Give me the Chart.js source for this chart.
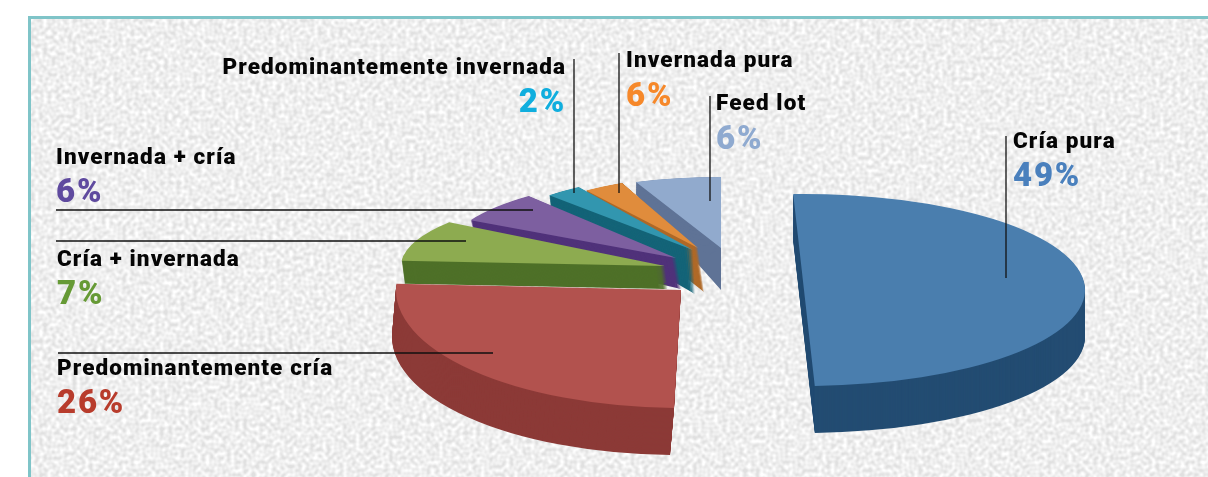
<!DOCTYPE html>
<html>
<head>
<meta charset="utf-8">
<title>Sistemas productivos</title>
<script src="https://cdn.jsdelivr.net/npm/chart.js@4"></script>
<style>
  html, body { margin: 0; padding: 0; background: #fff; overflow: hidden; }
  #panel {
    position: absolute; left: 28px; top: 16px; width: 1180px; height: 461px;
    border-left: 3px solid #7fc4c8; border-top: 3px solid #7fc4c8;
    background-color: #e0e0e0;
    background-image: url("data:image/svg+xml;utf8,<svg xmlns='http://www.w3.org/2000/svg' width='1200' height='480'><filter id='n'><feTurbulence type='fractalNoise' baseFrequency='0.24' numOctaves='1' seed='4'/><feColorMatrix values='0 0 0 0 1  0 0 0 0 1  0 0 0 0 1  2.2 0 0 0 -0.62'/></filter><rect width='1200' height='480' filter='url(%23n)'/></svg>");
  }
  #myChart { position: absolute; left: 0; top: 0; }
</style>
</head>
<body>
<div id="panel"></div>
<canvas id="myChart" width="1208" height="477"></canvas>
<script>
var categories = ["Cría pura", "Predominantemente cría", "Cría + invernada", "Invernada + cría", "Predominantemente invernada", "Invernada pura", "Feed lot"];
// slice sizes; the printed label for Invernada pura says 6% but its slice is narrower
var sliceValues = [49, 26, 7, 6, 2, 4, 6];
var percentLabels = ["49%", "26%", "7%", "6%", "2%", "6%", "6%"];

var topColors = ["#4a7eae", "#b2524e", "#8dab50", "#7d5fa0", "#3296af", "#e08c3c", "#91aacd"];
var sideColors = ["#234c72", "#8c3a37", "#4e7028", "#50327a", "#146478", "#af6928", "#5f7396"];
var textColors = ["#4a80bd", "#b83c2c", "#669a35", "#5f4a9f", "#10aede", "#f6882a", "#8faad0"];

// where each slice sits on the page: apex, ellipse radii, side height near the apex and at the far rim,
// sideways lean of the side wall, and a small perspective nudge (degrees) of the two cut edges
var slicePlace = [
  { x: 804, y: 290, rx: 281, ry: 96,  near: 47, far: 47, lean: 0, from: -2.2, to: 1.4 },
  { x: 681, y: 290, rx: 285, ry: 118, near: 47, far: 47, lean: -4, from: 5, to: 3 },
  { x: 665, y: 266, rx: 264, ry: 76,  near: 23, far: 24, lean: 3, from: 4, to: 10 },
  { x: 676, y: 258, rx: 233, ry: 80,  near: 31, far: 10, lean: 5, from: 3, to: 4 },
  { x: 693, y: 250, rx: 210, ry: 75,  near: 44, far: 6,  lean: 2, from: 0, to: 3 },
  { x: 698, y: 248, rx: 190, ry: 71,  near: 44, far: 6,  lean: 6, from: 0, to: -2 },
  { x: 721, y: 248, rx: 231, ry: 71,  near: 42, far: 10, lean: 0, from: 0, to: 0 }
];

// label text anchors, same order as categories
var textPlace = [
  { x: 1013, name: 148, pct: 186, align: "left" },
  { x: 57,   name: 375, pct: 413, align: "left" },
  { x: 57,   name: 266, pct: 304, align: "left" },
  { x: 56,   name: 164, pct: 202, align: "left" },
  { x: 566,  name: 74,  pct: 112, align: "right" },
  { x: 626,  name: 67,  pct: 106, align: "left" },
  { x: 716,  name: 110, pct: 149, align: "left" }
];

var leaderLines = [
  [1006, 136, 1006, 278],
  [58, 353, 493, 353],
  [56, 241, 466, 241],
  [56, 210, 533, 210],
  [574, 59, 574, 193],
  [619, 53, 619, 193],
  [710, 96, 710, 201]
];

function paintArc(ctx, arc, p, color, x, y, ry) {
  var shell = Object.create(arc);
  shell.options = Object.assign({}, arc.options, { backgroundColor: color });
  shell.startAngle = arc.startAngle + p.from * Math.PI / 180;
  shell.endAngle = arc.endAngle + p.to * Math.PI / 180;
  shell.circumference = shell.endAngle - shell.startAngle;
  var R = arc.outerRadius;
  ctx.save();
  ctx.translate(x, y);
  ctx.scale(p.rx / R, ry / R);
  ctx.translate(-arc.x, -arc.y);
  shell.draw(ctx);
  ctx.restore();
}

var tiltedPie = {
  id: 'tiltedPie',
  beforeDatasetsDraw: function(chart) {
    var ctx = chart.ctx;
    var arcs = chart.getDatasetMeta(0).data;
    // back slices first, the big front ones last
    for (var i = arcs.length - 1; i >= 0; i--) {
      var p = slicePlace[i];
      for (var k = p.near; k >= 1; k--) {
        var t = k / p.near;
        paintArc(ctx, arcs[i], p, sideColors[i], p.x + t * p.lean, p.y + k, p.ry + t * (p.near - p.far));
      }
      paintArc(ctx, arcs[i], p, topColors[i], p.x, p.y, p.ry);
    }
    return false;
  },
  afterDraw: function(chart) {
    var ctx = chart.ctx;
    ctx.save();
    ctx.strokeStyle = '#111';
    ctx.lineWidth = 1.3;
    leaderLines.forEach(function(l) {
      ctx.beginPath();
      ctx.moveTo(l[0], l[1]);
      ctx.lineTo(l[2], l[3]);
      ctx.stroke();
    });
    categories.forEach(function(name, i) {
      var p = textPlace[i];
      ctx.textAlign = p.align;
      ctx.fillStyle = '#050505';
      ctx.font = '900 22.5px Roboto';
      ctx.letterSpacing = '1.1px';
      ctx.fillText(name, p.x, p.name);
      ctx.fillStyle = textColors[i];
      ctx.font = '900 33px Roboto';
      ctx.letterSpacing = '1.8px';
      ctx.fillText(percentLabels[i], p.x, p.pct);
    });
    ctx.restore();
  }
};

var ctx = document.getElementById("myChart").getContext('2d');
var myChart = new Chart(ctx, {
    type: 'pie',
    data: {
        labels: categories,
        datasets: [{
            data: sliceValues,
            backgroundColor: topColors,
            borderWidth: 0
        }]},
    options: {
      responsive: false,
      animation: false,
      plugins: { legend: { display: false }, tooltip: { enabled: false } }
    },
    plugins: [tiltedPie]
});
</script>
</body>
</html>
